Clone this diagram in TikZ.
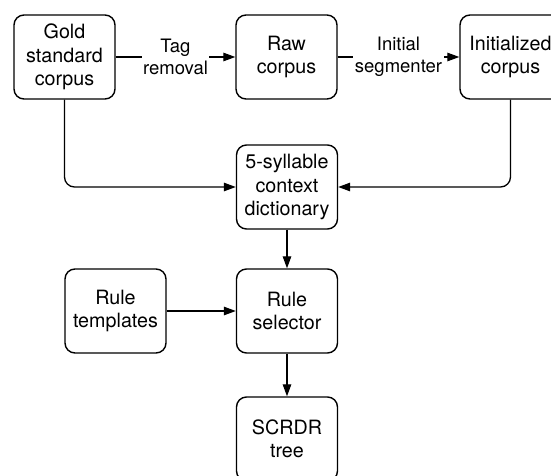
\documentclass[tikz,border=0pt]{standalone}
\usepackage{fontspec}
\setmainfont{TeX Gyre Heros}
\usetikzlibrary{arrows.meta}

\begin{document}
\begin{tikzpicture}[x=1pt,y=1pt,
  box/.style={draw, rounded corners=10pt, line width=1.4pt, align=center,
    minimum width=101pt, minimum height=84pt, inner sep=0pt,
    font=\fontsize{19.7}{23.5}\selectfont},
  flow/.style={line width=1.3pt, -{Triangle[length=12pt,width=8.5pt]}},
  steplabel/.style={fill=white, inner sep=1.5pt, align=center,
    font=\fontsize{18.5}{21.5}\selectfont}]
\definecolor{fillColor}{RGB}{255,255,255}
\path[use as bounding box,fill=fillColor] (0,0) rectangle (551,475);
\begin{scope}
\path[clip] (0,0) rectangle (551,475);

% top row
\node[box] (gold) at ( 64.5,418) {Gold\\standard\\corpus};
\node[box] (raw)  at (286.5,418) {Raw\\corpus};
\node[box] (init) at (510.5,418) {Initialized\\corpus};

% middle and bottom
\node[box] (dict)      at (287.0,288) {5-syllable\\context\\dictionary};
\node[box] (templates) at (115.5,164) {Rule\\templates};
\node[box] (selector)  at (287.0,164) {Rule\\selector};
\node[box] (scrdr)     at (287.0, 36) {SCRDR\\tree};

\draw[flow] (gold.east) -- node[steplabel] {Tag\\removal} (raw.west);
\draw[flow] (raw.east) -- node[steplabel] {Initial\\segmenter} (init.west);

\draw[flow, rounded corners=10pt] (gold.south) |- (dict.west);
\draw[flow, rounded corners=10pt] (init.south) |- (dict.east);

\draw[flow] (dict) -- (selector);
\draw[flow] (templates) -- (selector);
\draw[flow] (selector) -- (scrdr);
\end{scope}
\end{tikzpicture}
\end{document}
